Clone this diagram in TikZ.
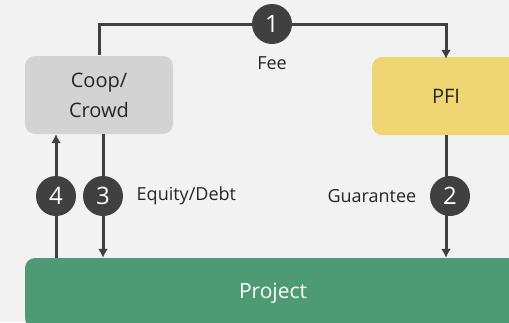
\documentclass[tikz,border=0pt]{standalone}
\usepackage{fontspec}
\setmainfont{Open Sans}
\usetikzlibrary{positioning}
\usetikzlibrary{arrows.meta}

\definecolor{bgcol}{HTML}{F2F2F2}
\definecolor{linecol}{HTML}{404040}
\definecolor{crowdcol}{HTML}{D3D3D3}
\definecolor{pficol}{HTML}{F0D672}
\definecolor{projcol}{HTML}{4E9A74}
\definecolor{txtcol}{HTML}{262626}

\begin{document}
\begin{tikzpicture}[x=1pt, y=-1pt,
                    party/.style={rounded corners=10pt, inner sep=0pt, font=\fontsize{20}{30}\selectfont, text=txtcol},
                    num/.style={circle, fill=linecol, text=white, minimum size=40pt, inner sep=0pt, font=\fontsize{24}{24}\selectfont},
                    flow/.style={draw=linecol, line width=3pt, -{Latex[length=9pt,width=10pt]}},
                    lbl/.style={font=\fontsize{18}{18}\selectfont, text=txtcol}]
    \fill[bgcol] (0,0) rectangle (509,322);
    \useasboundingbox (0,0) rectangle (509,322);

    % parties
    \node[party, fill=crowdcol, minimum width=148pt, minimum height=78pt, align=center] (crowd) at (99,95) {Coop/\\Crowd};
    \node[party, fill=pficol, minimum width=148pt, minimum height=78pt] (pfi) at (446,96) {PFI};
    \node[party, fill=projcol, text=white, minimum width=496pt, minimum height=70pt, font=\fontsize{21}{21}\selectfont] (project) at (273,293) {Project};

    % fee
    \coordinate (top) at (272,24);
    \draw[flow] (crowd.north) ++(0,-1) |- (top) -| ([yshift=-2pt]pfi.north);
    \node[num] (n1) at (top) {1};
    \node[lbl] (fee) at (272,63) {Fee};

    % guarantee
    \draw[flow] (pfi.south) -- (pfi.south |- project.north);
    \node[num] (n2) at (450,196) {2};
    \node[lbl, left=10pt of n2] (guar) {Guarantee};

    % equity/debt
    \draw[flow] ([xshift=4pt]crowd.south) -- ([xshift=4pt]crowd.south |- project.north);
    \node[num] (n3) at (103,196) {3};
    \node[lbl, right=10pt of n3] (eqd) {Equity/Debt};

    % return
    \draw[flow] ([xshift=-43pt]crowd.south |- project.north) -- ([xshift=-43pt]crowd.south);
    \node[num] (n4) at (56,196) {4};
\end{tikzpicture}
\end{document}
